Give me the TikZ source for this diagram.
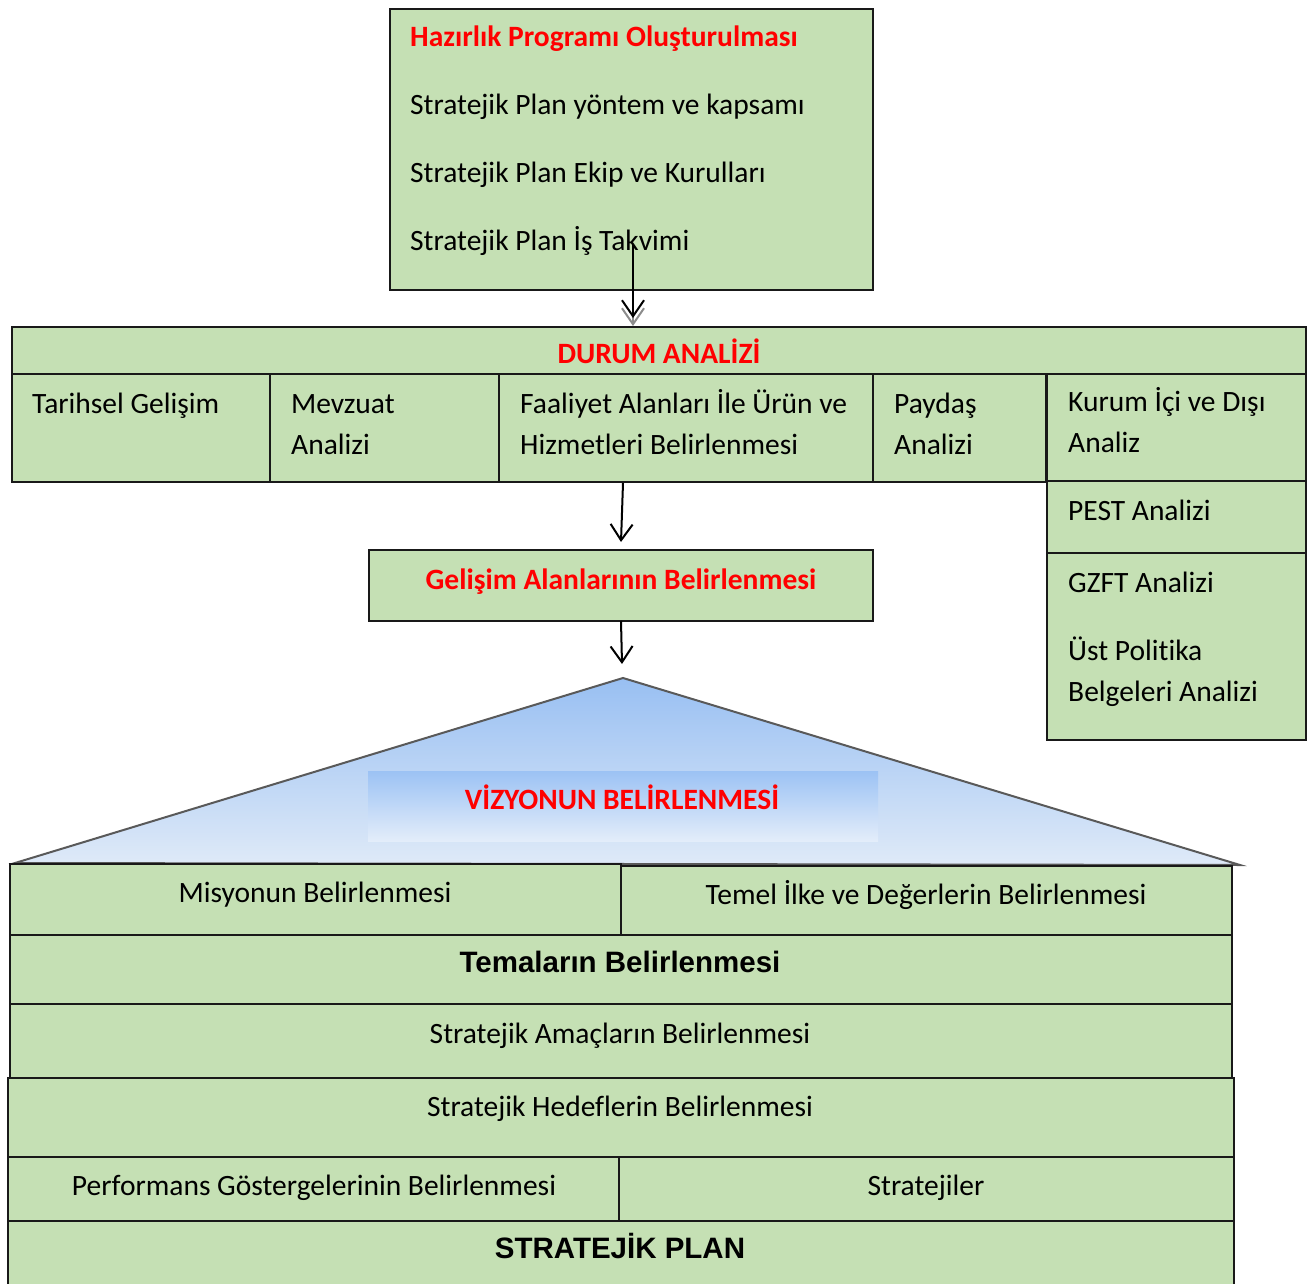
\documentclass[tikz,border=0pt]{standalone}
\usepackage{fontspec}
\setmainfont{Carlito}[Ligatures=NoCommon]
\newfontfamily\arialfont{Liberation Sans}
\usetikzlibrary{arrows.meta,fit}
\definecolor{boxgreen}{HTML}{C5E0B4}
\definecolor{redt}{HTML}{FF0000}
\definecolor{blueTop}{HTML}{98BFF2}
\definecolor{blueBot}{HTML}{DFEAF8}
\definecolor{blueRTop}{HTML}{9CC2F4}
\definecolor{blueRBot}{HTML}{E3EDFA}
\tikzset{
 box/.style={draw=black!90, line width=1.8pt, fill=boxgreen, inner sep=0pt},
 txt/.style={inner sep=0pt, font=\fontsize{29.5}{35}\selectfont, text=black},
 redb/.style={inner sep=0pt, font=\fontsize{29.5}{35}\selectfont\bfseries, text=redt},
 arialb/.style={inner sep=0pt, font=\fontsize{29.5}{35}\selectfont\arialfont\bfseries, text=black},
 arr/.style={line width=2pt, -{Straight Barb[length=16pt,width=22pt,line width=2pt]}},
}
\begin{document}
\begin{tikzpicture}[x=1pt,y=-1pt]
\useasboundingbox (0,0) rectangle (1310,1284);

% top box
\node[box, fit={(390,9) (873,290)}] (top) {};
\node[redb, anchor=base west] (t0) at (410,47) {Hazırlık Programı Oluşturulması};
\node[txt, anchor=base west] (t1) at (410,115) {Stratejik Plan yöntem ve kapsamı};
\node[txt, anchor=base west] (t2) at (410,183) {Stratejik Plan Ekip ve Kurulları};
\node[txt, anchor=base west] (t3) at (410,251) {Stratejik Plan İş Takvimi};

% durum analizi
\node[box, fit={(12,327) (1306,374)}] (durum) {};
\node[redb, anchor=base] (durumt) at (659,363) {DURUM ANALİZİ};
\node[box, fit={(12,374) (270,482)}] (c1) {};
\node[box, fit={(270,374) (499,482)}] (c2) {};
\node[box, fit={(499,374) (873,482)}] (c3) {};
\node[box, fit={(873,374) (1046,482)}] (c4) {};
\node[box, fit={(1047,374) (1306,481)}] (c5) {};
\node[box, fit={(1047,481) (1306,553)}] (pest) {};
\node[box, fit={(1047,553) (1306,740)}] (gzft) {};

\node[txt, anchor=base west] (c1a) at (32,413) {Tarihsel Gelişim};
\node[txt, anchor=base west] (c2a) at (291,413) {Mevzuat};
\node[txt, anchor=base west] (c2b) at (291,454) {Analizi};
\node[txt, anchor=base west] (c3a) at (520,413) {Faaliyet Alanları İle Ürün ve};
\node[txt, anchor=base west] (c3b) at (520,454) {Hizmetleri Belirlenmesi};
\node[txt, anchor=base west] (c4a) at (894,413) {Paydaş};
\node[txt, anchor=base west] (c4b) at (894,454) {Analizi};
\node[txt, anchor=base west] (c5a) at (1068,411) {Kurum İçi ve Dışı};
\node[txt, anchor=base west] (c5b) at (1068,452) {Analiz};
\node[txt, anchor=base west] (pesta) at (1068,520) {PEST Analizi};
\node[txt, anchor=base west] (gzfta) at (1068,592) {GZFT Analizi};
\node[txt, anchor=base west] (usta) at (1068,660) {Üst Politika};
\node[txt, anchor=base west] (ustb) at (1068,701) {Belgeleri Analizi};

% gelisim
\node[box, fit={(369,550) (873,621)}] (gel) {};
\node[redb, anchor=base] (gelt) at (621,589) {Gelişim Alanlarının Belirlenmesi};

% arrows
\coordinate (a1s) at (633,245);
\coordinate (a1g) at (633,326);
\coordinate (a1e) at (633,318);
\draw[arr, draw=black!45] (a1s) -- (a1g);
\draw[arr] (a1s) -- (a1e);
\coordinate (a2s) at (623,483);
\coordinate (a2e) at (621,542);
\draw[arr] (a2s) -- (a2e);
\coordinate (a3s) at (621,621);
\coordinate (a3e) at (622,664);
\draw[arr] (a3s) -- (a3e);

% triangle
\shade[top color=blueTop, bottom color=blueBot] (623,678) -- (15,863) -- (1240,865) -- cycle;
\draw[line width=2pt, draw=black!65, line join=miter] (623,678) -- (15,863) -- (1240,865) -- cycle;
\shade[top color=blueRTop, bottom color=blueRBot] (368,771) rectangle (878,841);
\node[redb, anchor=base] (viz) at (622,809) {VİZYONUN BELİRLENMESİ};

% lower stack
\node[box, fit={(10,864) (621,935)}] (mis) {};
\node[box, fit={(621,866) (1232,935)}] (temel) {};
\node[box, fit={(10,935) (1232,1004)}] (tema) {};
\node[box, fit={(10,1004) (1232,1078)}] (amac) {};
\node[box, fit={(8,1078) (1234,1157)}] (hedef) {};
\node[box, fit={(8,1157) (619,1221)}] (perf) {};
\node[box, fit={(619,1157) (1234,1221)}] (strj) {};
\node[box, fit={(8,1221) (1234,1300)}] (plan) {};

\node[txt, anchor=base] (mist) at (315,902) {Misyonun Belirlenmesi};
\node[txt, anchor=base] (temelt) at (926,904) {Temel İlke ve Değerlerin Belirlenmesi};
\node[arialb, anchor=base] (temat) at (620,972) {Temaların Belirlenmesi};
\node[txt, anchor=base] (amact) at (620,1043) {Stratejik Amaçların Belirlenmesi};
\node[txt, anchor=base] (hedeft) at (620,1116) {Stratejik Hedeflerin Belirlenmesi};
\node[txt, anchor=base] (perft) at (314,1195) {Performans Göstergelerinin Belirlenmesi};
\node[txt, anchor=base] (strjt) at (926,1195) {Stratejiler};
\node[arialb, anchor=base] (plant) at (620,1258) {STRATEJİK PLAN};
\end{tikzpicture}
\end{document}
